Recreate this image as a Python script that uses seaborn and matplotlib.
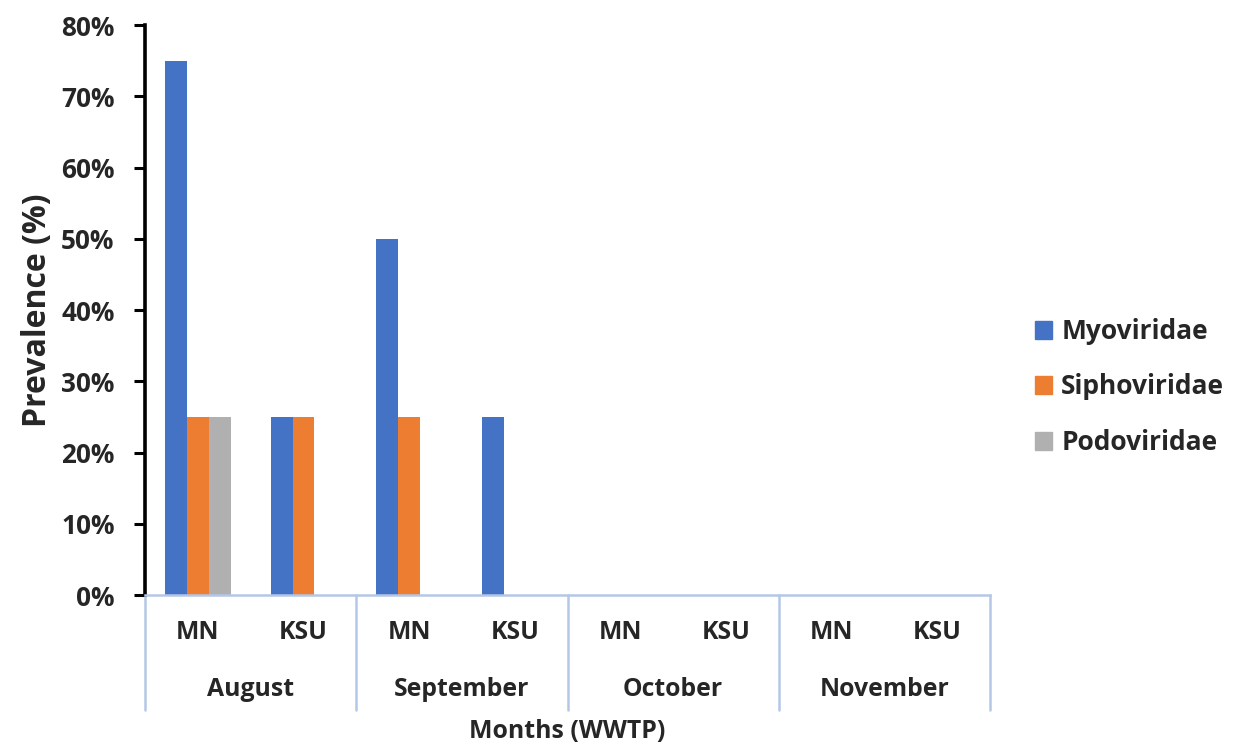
import matplotlib
matplotlib.use("Agg")
import matplotlib.pyplot as plt
import matplotlib.transforms as mtransforms
from matplotlib.ticker import FuncFormatter
import numpy as np
import pandas as pd
import seaborn as sns

# Phage family prevalence by sampling month and treatment plant
months = ["August", "September", "October", "November"]
sites = ["MN", "KSU"]
families = ["Myoviridae", "Siphoviridae", "Podoviridae"]
myoviridae = [75, 25, 50, 25, 0, 0, 0, 0]
siphoviridae = [25, 25, 25, 0, 0, 0, 0, 0]
podoviridae = [25, 0, 0, 0, 0, 0, 0, 0]
colors = ["#4472C4", "#ED7D31", "#B0B0B0"]

slots = [f"{m} {s}" for m in months for s in sites]
records = []
for fam, vals in zip(families, [myoviridae, siphoviridae, podoviridae]):
    for slot, v in zip(slots, vals):
        records.append({"slot": slot, "family": fam, "value": v})
df = pd.DataFrame(records)

sns.set_theme(style="white")
plt.rcParams["font.family"] = ["Open Sans", "DejaVu Sans"]
plt.rcParams["font.weight"] = "bold"

fig = plt.figure(figsize=(12.43, 7.45), dpi=100)
ax = fig.add_axes([0.1167, 0.2013, 0.6798, 0.7651])

sns.barplot(data=df, x="slot", y="value", hue="family", order=slots,
            hue_order=families, palette=colors, width=0.62, gap=0,
            linewidth=0, saturation=1, ax=ax, legend=True)

ax.set_xlim(-0.5, len(slots) - 0.5)
ax.set_ylim(0, 80)
ax.set_yticks(np.arange(0, 81, 10))
ax.yaxis.set_major_formatter(FuncFormatter(lambda v, p: f"{v:.0f}%"))
ax.tick_params(axis="y", which="major", left=True, direction="out",
               length=8, width=2.2, color="black", pad=14, labelsize=18.8)
for lab in ax.get_yticklabels():
    lab.set_fontweight("bold")

for side in ["top", "right"]:
    ax.spines[side].set_visible(False)
ax.spines["left"].set_color("black")
ax.spines["left"].set_linewidth(2.6)
axis_blue = "#B4C7E7"
ax.spines["bottom"].set_color(axis_blue)
ax.spines["bottom"].set_linewidth(1.8)

# Two-level category axis: site row, month row, separators
ax.set_xticks(range(len(slots)))
ax.set_xticklabels([])
ax.tick_params(axis="x", bottom=False, length=0)
trans = mtransforms.blended_transform_factory(ax.transData, ax.transAxes)
for i, slot in enumerate(slots):
    ax.text(i, -0.066, sites[i % len(sites)], transform=trans,
            ha="center", va="center", fontsize=17.8, fontweight="bold")
for j, m in enumerate(months):
    center = j * len(sites) + (len(sites) - 1) / 2
    ax.text(center, -0.166, m, transform=trans, ha="center", va="center",
            fontsize=17.8, fontweight="bold")
for k in range(len(months) + 1):
    xpos = k * len(sites) - 0.5
    ax.plot([xpos, xpos], [0, -0.2018], transform=trans, color=axis_blue,
            lw=1.8, clip_on=False)

ax.set_xlabel("")
ax.text(0.5, -0.24, "Months (WWTP)", transform=ax.transAxes, ha="center",
        va="center", fontsize=17.9, fontweight="bold")
ax.set_ylabel("Prevalence (%)", fontsize=23, fontweight="bold", labelpad=5)

ax.get_legend().remove()
handles = [plt.Rectangle((0, 0), 1, 1, color=c) for c in colors]
leg = fig.legend(handles, families, loc="center left",
                 bbox_to_anchor=(1011 / 1243, 1 - 387 / 745),
                 frameon=False, handlelength=0.65, handleheight=0.65,
                 handletextpad=0.35, labelspacing=1.08,
                 prop={"size": 19, "weight": "bold"})

fig.savefig("out.png", dpi=100)
